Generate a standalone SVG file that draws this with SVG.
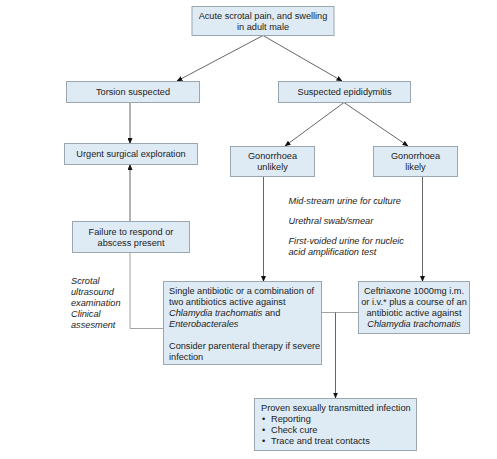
<svg xmlns="http://www.w3.org/2000/svg" width="497" height="459" viewBox="0 0 497 459">
<defs>
<marker id="ah" markerWidth="6" markerHeight="5" refX="5.5" refY="2.5" orient="auto" markerUnits="userSpaceOnUse">
<path d="M0,0 L6,2.5 L0,5 Z" fill="#111"/>
</marker>
<style>
.box{fill:#deeaf4;stroke:#9aa6b0;stroke-width:1}
text{font-family:"Liberation Sans",Arial,sans-serif;font-size:9.2px;fill:#222}
.c{text-anchor:middle}
.i{font-style:italic}
.ln{fill:none;stroke:#555;stroke-width:0.9}
.lt{fill:none;stroke:#999;stroke-width:0.9}
</style>
</defs>
<rect width="497" height="459" fill="#fff"/>
<g id="connectors">
<line class="ln" x1="263" y1="35.5" x2="177" y2="81" marker-end="url(#ah)"/>
<line class="ln" x1="263" y1="35.5" x2="342" y2="81" marker-end="url(#ah)"/>
<line class="ln" x1="130" y1="102.5" x2="130" y2="143.5" marker-end="url(#ah)"/>
<line class="ln" x1="344" y1="102.5" x2="285" y2="146" marker-end="url(#ah)"/>
<line class="ln" x1="344" y1="102.5" x2="408" y2="146" marker-end="url(#ah)"/>
<line class="ln" x1="130" y1="221.5" x2="130" y2="164.5" marker-end="url(#ah)"/>
<polyline class="lt" points="130,252.5 130,328.5 163.5,328.5"/>
<line class="ln" x1="263.5" y1="177" x2="263.5" y2="281.5" marker-end="url(#ah)"/>
<line class="ln" x1="422.5" y1="177" x2="422.5" y2="281.5" marker-end="url(#ah)"/>
<line class="lt" x1="321.5" y1="312.5" x2="358.5" y2="312.5"/>
<line class="ln" x1="335.5" y1="312.5" x2="335.5" y2="398" marker-end="url(#ah)"/>
</g>
<g id="n-start">
<rect class="box" x="192" y="6.5" width="142" height="29"/>
<text class="c" x="263" y="19">Acute scrotal pain, and swelling</text>
<text class="c" x="263" y="30">in adult male</text>
</g>
<g id="n-torsion">
<rect class="box" x="66.5" y="81.5" width="133" height="21"/>
<text class="c" x="133" y="95">Torsion suspected</text>
</g>
<g id="n-epid">
<rect class="box" x="278.5" y="81.5" width="132" height="21"/>
<text class="c" x="344.5" y="95">Suspected epididymitis</text>
</g>
<g id="n-urgent">
<rect class="box" x="64.5" y="143.5" width="133" height="21"/>
<text class="c" x="131" y="157.3">Urgent surgical exploration</text>
</g>
<g id="n-gon-unlikely">
<rect class="box" x="230.5" y="146.5" width="84" height="30"/>
<text class="c" x="272.5" y="159">Gonorrhoea</text>
<text class="c" x="272.5" y="170">unlikely</text>
</g>
<g id="n-gon-likely">
<rect class="box" x="373.5" y="146.5" width="84" height="30"/>
<text class="c" x="415.5" y="159">Gonorrhoea</text>
<text class="c" x="415.5" y="170">likely</text>
</g>
<g id="n-failure">
<rect class="box" x="72.5" y="221.5" width="117" height="31"/>
<text class="c" x="131" y="235">Failure to respond or</text>
<text class="c" x="131" y="245.6">abscess present</text>
</g>
<g id="t-scrotal">
<text class="i" x="71" y="284">Scrotal</text>
<text class="i" x="71" y="295">ultrasound</text>
<text class="i" x="71" y="306">examination</text>
<text class="i" x="71" y="317">Clinical</text>
<text class="i" x="71" y="328">assesment</text>
</g>
<g id="t-tests">
<text class="i" x="288.5" y="204.3">Mid-stream urine for culture</text>
<text class="i" x="288.5" y="224.3">Urethral swab/smear</text>
<text class="i" x="288.5" y="244">First-voided urine for nucleic</text>
<text class="i" x="288.5" y="255">acid amplification test</text>
</g>
<g id="n-single">
<rect class="box" x="163.5" y="281.5" width="158" height="83"/>
<text x="169" y="294">Single antibiotic or a combination of</text>
<text x="169" y="305">two antibiotics active against</text>
<text x="169" y="316"><tspan class="i">Chlamydia trachomatis</tspan> and</text>
<text x="169" y="327" class="i">Enterobacterales</text>
<text x="169" y="349.3">Consider parenteral therapy if severe</text>
<text x="169" y="360.3">infection</text>
</g>
<g id="n-ceftriaxone">
<rect class="box" x="358.5" y="281.5" width="111" height="52"/>
<text class="c" x="414" y="294.3">Ceftriaxone 1000mg i.m.</text>
<text class="c" x="414" y="305.3">or i.v.* plus a course of an</text>
<text class="c" x="414" y="316.3">antibiotic active against</text>
<text class="c i" x="414" y="327.3">Chlamydia trachomatis</text>
</g>
<g id="n-proven">
<rect class="box" x="254.5" y="398.5" width="162" height="52"/>
<text x="261" y="411">Proven sexually transmitted infection</text>
<text x="262" y="422">•</text><text x="271" y="422">Reporting</text>
<text x="262" y="433">•</text><text x="271" y="433">Check cure</text>
<text x="262" y="444">•</text><text x="271" y="444">Trace and treat contacts</text>
</g>
</svg>
